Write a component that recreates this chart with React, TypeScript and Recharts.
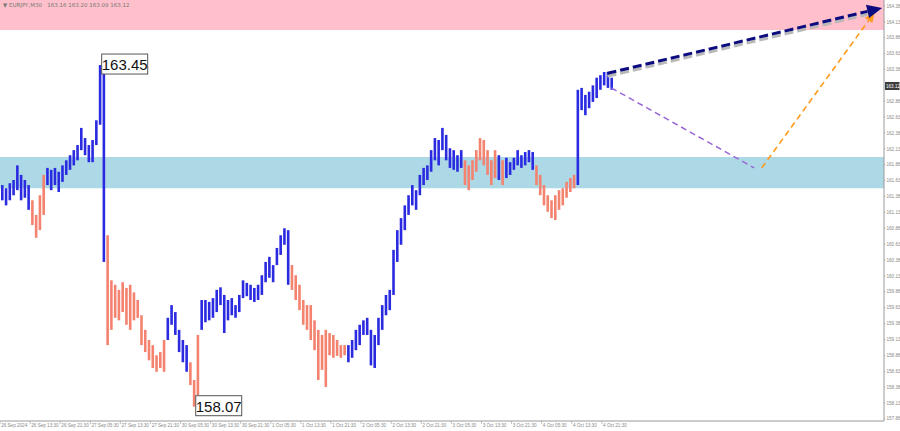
import {
  ComposedChart,
  Bar,
  Cell,
  XAxis,
  YAxis,
  ReferenceArea,
  ReferenceLine,
  ReferenceDot,
} from 'recharts';

// hourly bars: high / low, 'b' = up wave (blue), 's' = down wave (salmon)
const highs = [
  161.56, 161.51, 161.59, 161.64, 161.87, 161.72, 161.64, 161.56, 161.32, 161.09,
  161.40, 161.72, 161.83, 161.80, 161.83, 161.77, 161.87, 161.95, 162.03, 162.11,
  162.19, 162.46, 162.30, 162.19, 162.27, 162.58, 163.45, 163.37, 160.77, 160.06,
  159.99, 159.91, 160.03, 159.94, 159.99, 159.87, 159.75, 159.51, 159.28, 159.12,
  159.04, 158.88, 158.93, 159.12, 159.47, 159.67, 159.56, 159.28, 159.12, 159.04,
  158.77, 158.49, 159.20, 159.75, 159.75, 159.72, 159.78, 159.91, 159.95, 159.83,
  159.75, 159.78, 159.67, 159.83, 160.06, 160.02, 159.99, 159.94, 159.99, 160.14,
  160.35, 160.43, 160.30, 160.57, 160.77, 160.88, 160.85, 160.30, 160.14, 159.99,
  159.75, 159.67, 159.67, 159.43, 159.28, 159.20, 159.28, 159.23, 159.20, 159.12,
  159.04, 159.04, 159.04, 159.12, 159.28, 159.36, 159.43, 159.47, 159.28, 159.20,
  159.47, 159.67, 159.83, 159.91, 160.54, 160.85, 161.04, 161.24, 161.40, 161.56,
  161.48, 161.72, 161.83, 161.87, 162.11, 162.30, 162.27, 162.46, 162.35, 162.14,
  162.11, 162.03, 162.11, 161.95, 161.87, 161.95, 162.11, 162.30, 162.27, 162.11,
  161.95, 162.11, 162.03, 161.95, 161.99, 161.92, 161.99, 162.11, 162.03, 162.08,
  162.11, 162.08, 161.87, 161.72, 161.56, 161.40, 161.32, 161.40, 161.48, 161.51,
  161.61, 161.67, 161.72, 163.06, 163.09, 162.98, 163.03, 163.13, 163.25, 163.29,
  163.34, 163.34, 163.25,
];
const lows = [
  161.32, 161.24, 161.32, 161.40, 161.48, 161.32, 161.36, 161.17, 160.93, 160.73,
  160.85, 161.09, 161.56, 161.48, 161.56, 161.45, 161.61, 161.72, 161.80, 161.87,
  161.95, 162.11, 162.03, 161.92, 161.92, 162.19, 162.51, 160.35, 159.04, 159.28,
  159.47, 159.43, 159.56, 159.36, 159.28, 159.43, 159.47, 159.04, 158.93, 158.80,
  158.68, 158.62, 158.68, 158.62, 159.12, 159.36, 159.20, 158.93, 158.77, 158.62,
  158.41, 158.07, 158.25, 159.28, 159.40, 159.43, 159.47, 159.56, 159.67, 159.23,
  159.43, 159.51, 159.47, 159.56, 159.78, 159.81, 159.75, 159.72, 159.75, 159.83,
  160.03, 160.10, 160.03, 160.30, 160.46, 160.62, 159.99, 159.91, 159.75, 159.59,
  159.36, 159.28, 159.12, 158.96, 158.49, 158.65, 158.38, 158.88, 158.84, 158.87,
  158.84, 158.88, 158.77, 158.84, 158.96, 159.04, 159.20, 159.20, 158.72, 158.68,
  159.04, 159.28, 159.51, 159.59, 159.83, 160.35, 160.62, 160.85, 161.09, 161.24,
  161.17, 161.40, 161.56, 161.64, 161.77, 161.95, 161.87, 162.11, 161.95, 161.83,
  161.80, 161.77, 161.83, 161.56, 161.48, 161.64, 161.77, 161.95, 161.87, 161.72,
  161.56, 161.67, 161.64, 161.56, 161.67, 161.72, 161.80, 161.87, 161.83, 161.87,
  161.92, 161.80, 161.56, 161.40, 161.24, 161.14, 161.04, 161.01, 161.17, 161.24,
  161.36, 161.45, 161.51, 161.56, 162.74, 162.66, 162.77, 162.87, 162.93, 163.06,
  163.13, 163.09, 163.06,
];
const sides =
  'bbbbbbbb' + 'ssss' + 'bbbbbbbbbbbbbbbb' + 'ssssssssssssssss' + 'bbbbbb' + 'sss' +
  'bbbbbbbbbbbbbbbbbbbbbbbb' + 'sssssssssssssss' + 'bbbbbbbbbbbbbbbbbbbbbbbbbbbbbbb' +
  'sssssssss' + 'b' + 's' + 'bbbbbbbb' + 'sssssssssss' + 'bbbbbbbbbb';

const timeLabels = [
  '26 Sep 2024', '26 Sep 13:30', '26 Sep 21:30', '27 Sep 05:30', '27 Sep 13:30',
  '27 Sep 21:30', '30 Sep 05:30', '30 Sep 13:30', '30 Sep 21:30', '1 Oct 05:30',
  '1 Oct 13:30', '1 Oct 21:30', '2 Oct 05:30', '2 Oct 13:30', '2 Oct 21:30',
  '3 Oct 05:30', '3 Oct 13:30', '3 Oct 21:30', '4 Oct 05:30', '4 Oct 13:30',
  '4 Oct 21:30',
];
const priceTicks = [
  164.38, 164.13, 163.88, 163.63, 163.38, 162.88, 162.63, 162.38, 162.13, 161.88,
  161.63, 161.38, 161.13, 160.88, 160.63, 160.38, 160.13, 159.88, 159.63, 159.38,
  159.13, 158.88, 158.63, 158.38, 158.13, 157.88,
];
const currentPrice = 163.12;
const highLabel = { bar: 26, price: 163.45 };
const lowLabel = { bar: 51, price: 158.07 };

// resistance / support zones
const pinkZone = [164.0, 164.5];
const blueZone = [161.51, 162.0];

// forecast: up target, correction, then continuation
const mainTarget = { from: [161, 163.32], to: [234, 164.35] };
const correction = { from: [162, 163.09], to: [200, 161.83] };
const continuation = { from: [202, 161.83], to: [232, 164.28] };

const TOTAL_SLOTS = 235;
const BLUE = '#2a2ae0';
const SALMON = '#f3826f';
const AXIS_FONT = 'Liberation Sans';

const data = Array.from({ length: TOTAL_SLOTS }, (_, i) => ({
  i,
  range: i < highs.length ? [lows[i], highs[i]] : null,
}));

const XTick = ({ x, y, payload }: any) => {
  const label = timeLabels[payload.value / 8];
  if (!label) return null;
  const left = x - 1.9;
  return (
    <g>
      <line x1={left} y1={y} x2={left} y2={y + 3} stroke="#999" strokeWidth={0.6} />
      <text x={left + 1.2} y={y + 6} fontSize={4.6} fill="#888" fontFamily={AXIS_FONT}>
        {label}
      </text>
    </g>
  );
};

const YTick = ({ x, y, payload }: any) => (
  <g>
    <line x1={x} y1={y} x2={x + 1.5} y2={y} stroke="#999" strokeWidth={0.6} />
    <text x={x + 2.5} y={y + 1.7} fontSize={4.6} fill="#888" fontFamily={AXIS_FONT}>
      {payload.value.toFixed(2)}
    </text>
  </g>
);

const PriceTag = ({ viewBox }: any) => {
  const xr = viewBox.x + viewBox.width;
  return (
    <g>
      <rect x={xr + 1} y={viewBox.y - 4} width={14.5} height={8} fill="#3c3c3c" />
      <text x={xr + 2} y={viewBox.y + 1.7} fontSize={4.6} fill="#fff" fontFamily={AXIS_FONT}>
        {currentPrice.toFixed(2)}
      </text>
    </g>
  );
};

const ExtremeBox = (text: string) => ({ cx, cy }: any) => (
  <g>
    <rect x={cx + 2} y={cy - 11} width={46} height={20} fill="#fff" stroke="#555" strokeWidth={1} />
    <text x={cx + 25} y={cy + 5} fontSize={15} textAnchor="middle" fill="#111" fontFamily="Liberation Sans">
      {text}
    </text>
  </g>
);

const arrowShape = (color: string, width: number, dash: string, head: number, shadow?: boolean) =>
  (p: any) => {
    const { x1, y1, x2, y2 } = p;
    if (x1 == null) return <g />;
    const ang = Math.atan2(y2 - y1, x2 - x1);
    const bx = x2 - head * Math.cos(ang);
    const by = y2 - head * Math.sin(ang);
    const w = head * 0.45;
    const pts = `${x2},${y2} ${bx + w * Math.sin(ang)},${by - w * Math.cos(ang)} ${bx - w * Math.sin(ang)},${by + w * Math.cos(ang)}`;
    return (
      <g>
        {shadow && (
          <line x1={x1} y1={y1 + 3} x2={bx} y2={by + 3} stroke="#b9b9b9" strokeWidth={width} strokeDasharray={dash} />
        )}
        <line x1={x1} y1={y1} x2={head ? bx : x2} y2={head ? by : y2} stroke={color} strokeWidth={width} strokeDasharray={dash} />
        {head > 0 && <polygon points={pts} fill={color} />}
      </g>
    );
  };

export default function App() {
  return (
    <div style={{ position: 'absolute', left: 0, top: 0, width: 900, height: 431, background: '#fff' }}>
      <ComposedChart width={900} height={431} data={data} margin={{ top: 0, right: 0, bottom: 0, left: 0 }}>
        <XAxis
          dataKey="i"
          ticks={timeLabels.map((_, k) => k * 8)}
          interval={0}
          height={10}
          tick={<XTick />}
          tickLine={false}
          tickSize={0}
          tickMargin={0}
          axisLine={{ stroke: '#9a9a9a' }}
        />
        <YAxis
          orientation="right"
          width={16}
          domain={[157.845, 164.474]}
          allowDataOverflow
          ticks={priceTicks}
          interval={0}
          tick={<YTick />}
          tickLine={false}
          tickSize={0}
          tickMargin={0}
          axisLine={{ stroke: '#9a9a9a' }}
        />
        <ReferenceArea y1={pinkZone[0]} y2={pinkZone[1]} fill="#ffc0cb" fillOpacity={1} ifOverflow="hidden" />
        <ReferenceArea y1={blueZone[0]} y2={blueZone[1]} fill="#add8e6" fillOpacity={1} />
        <Bar dataKey="range" barSize={2.6} isAnimationActive={false}>
          {data.map((d) => (
            <Cell key={d.i} fill={sides[d.i] === 's' ? SALMON : BLUE} />
          ))}
        </Bar>
        <ReferenceLine
          segment={[
            { x: correction.from[0], y: correction.from[1] },
            { x: correction.to[0], y: correction.to[1] },
          ]}
          shape={arrowShape('#9a66d6', 1.5, '6 4', 0)}
        />
        <ReferenceLine
          segment={[
            { x: continuation.from[0], y: continuation.from[1] },
            { x: continuation.to[0], y: continuation.to[1] },
          ]}
          shape={arrowShape('#ff9a1a', 1.6, '6 4', 10)}
        />
        <ReferenceLine
          segment={[
            { x: mainTarget.from[0], y: mainTarget.from[1] },
            { x: mainTarget.to[0], y: mainTarget.to[1] },
          ]}
          shape={arrowShape('#0c0c80', 3, '9 4', 15, true)}
        />
        <ReferenceLine y={currentPrice} stroke="none" label={<PriceTag />} />
        <ReferenceDot x={highLabel.bar} y={highLabel.price} r={0} shape={ExtremeBox(highLabel.price.toFixed(2))} />
        <ReferenceDot x={lowLabel.bar} y={lowLabel.price} r={0} shape={ExtremeBox(lowLabel.price.toFixed(2))} />
      </ComposedChart>
      <div
        style={{
          position: 'absolute',
          left: 3,
          top: 2,
          fontSize: 5.5,
          color: '#777',
          fontFamily: 'DejaVu Sans',
          whiteSpace: 'pre',
        }}
      >
        {'▼ EURJPY,M30   163.16 163.20 163.09 163.12'}
      </div>
    </div>
  );
}
